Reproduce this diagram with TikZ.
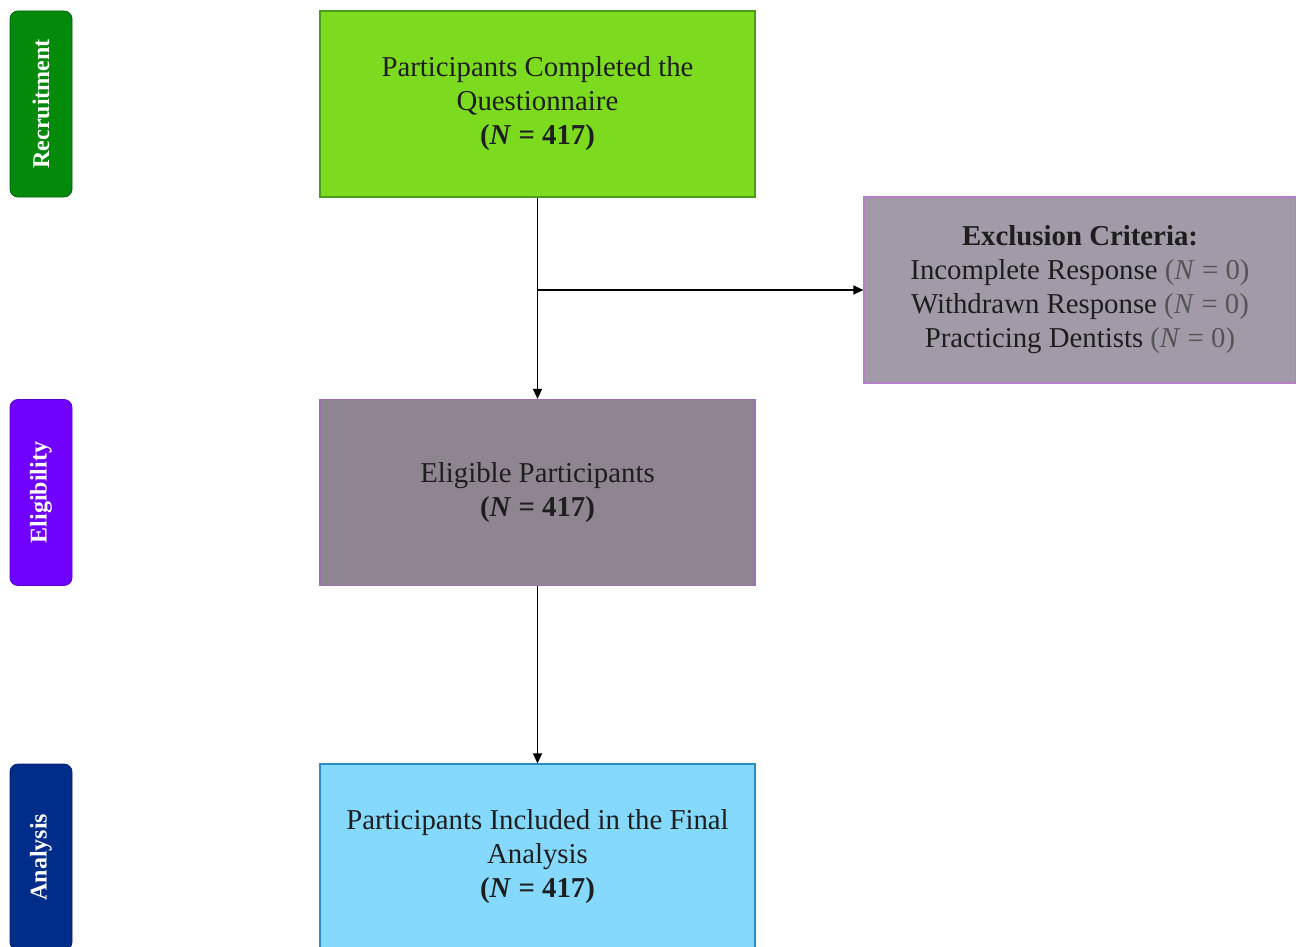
\documentclass[tikz,border=0pt]{standalone}
\usepackage{fontspec}
\setmainfont{Liberation Serif}
\usetikzlibrary{arrows.meta}
\definecolor{qfill}{HTML}{7DDB1F}
\definecolor{qline}{HTML}{4E9A1C}
\definecolor{xfill}{HTML}{A29AA6}
\definecolor{xline}{HTML}{B47FC6}
\definecolor{efill}{HTML}{8E8590}
\definecolor{eline}{HTML}{9C70B0}
\definecolor{afill}{HTML}{84D9FD}
\definecolor{aline}{HTML}{2E8BC9}
\definecolor{recc}{HTML}{038A0A}
\definecolor{eligc}{HTML}{7000FF}
\definecolor{anac}{HTML}{002C8A}
\definecolor{txt}{HTML}{1E1E1E}
\definecolor{ntxt}{HTML}{555555}
\tikzset{
  box/.style={draw, line width=0.6pt, minimum width=217.5pt, minimum height=93pt,
    align=center, inner sep=0pt, text=txt, font=\fontsize{14.4}{17}\selectfont},
  side/.style={rotate=90, rounded corners=4pt, minimum width=93pt, minimum height=31pt,
    inner sep=0pt, text=white, font=\fontsize{12}{14}\selectfont\bfseries},
  arr/.style={line width=0.7pt, -{Triangle[length=5pt,width=4.5pt]}}
}
\begin{document}
\begin{tikzpicture}[x=0.5pt,y=-0.5pt]
\useasboundingbox (0,0) rectangle (1296,947);
\clip (0,0) rectangle (1296,947);
\node[side, fill=recc, draw=recc!70!black] (rec) at (41,104) {Recruitment};
\node[side, fill=eligc, draw=eligc!80!black] (eli) at (41,492.5) {Eligibility};
\node[side, fill=anac, draw=anac!80!black] (ans) at (41,857) {Analysis};

\node[box, fill=qfill, draw=qline] (q) at (537.5,104) {Participants Completed the\\Questionnaire\\\textbf{(\textit{N} = 417)}};
\node[box, fill=efill, draw=eline] (elig) at (537.5,492.5) {Eligible Participants\\\textbf{(\textit{N} = 417)}};
\node[box, fill=afill, draw=aline] (ana) at (537.5,857) {Participants Included in the Final\\Analysis\\\textbf{(\textit{N} = 417)}};
\node[box, fill=xfill, draw=xline, minimum width=216pt] (exc) at (1080,290) {\textbf{Exclusion Criteria:}\\Incomplete Response \textcolor{ntxt}{(\textit{N} = 0)}\\Withdrawn Response \textcolor{ntxt}{(\textit{N} = 0)}\\Practicing Dentists \textcolor{ntxt}{(\textit{N} = 0)}};

\draw[arr] (q.south) -- (elig.north);
\draw[arr] (q.south |- exc.west) -- (exc.west);
\draw[arr] (elig.south) -- (ana.north);
\end{tikzpicture}
\end{document}
